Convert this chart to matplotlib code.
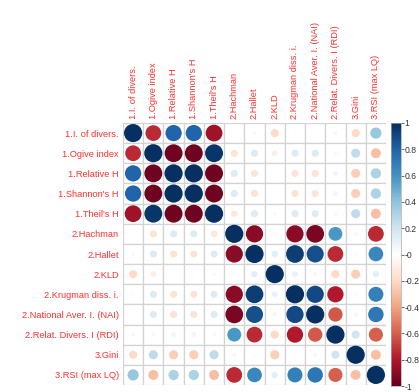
import numpy as np
import matplotlib.pyplot as plt
from matplotlib.colors import LinearSegmentedColormap
from matplotlib.patches import Circle, Rectangle

labels = ["1.I. of divers.", "1.Ogive index", "1.Relative H", "1.Shannon's H",
          "1.Theil's H", "2.Hachman", "2.Hallet", "2.KLD", "2.Krugman diss. i.",
          "2.National Aver. I. (NAI)", "2.Relat. Divers. I (RDI)", "3.Gini",
          "3.RSI (max LQ)"]

corr = [
    [1.00, -0.75, 0.80, 0.80, -0.85, 0.00, -0.04, -0.20, -0.03, 0.00, 0.05, -0.20, 0.38],
    [-0.75, 1.00, -0.97, -0.97, 0.97, -0.15, 0.15, -0.10, 0.15, 0.15, -0.05, 0.25, -0.30],
    [0.80, -0.97, 1.00, 1.00, -0.97, 0.15, -0.15, -0.02, -0.15, -0.15, 0.07, -0.25, 0.32],
    [0.80, -0.97, 1.00, 1.00, -0.97, 0.15, -0.15, -0.02, -0.15, -0.15, 0.07, -0.25, 0.32],
    [-0.85, 0.97, -0.97, -0.97, 1.00, -0.13, 0.15, -0.04, 0.15, 0.15, -0.05, 0.25, -0.30],
    [0.00, -0.15, 0.15, 0.15, -0.13, 1.00, -0.90, -0.03, -0.90, -0.95, 0.58, -0.05, -0.75],
    [-0.04, 0.15, -0.15, -0.15, 0.15, -0.90, 1.00, 0.12, 0.95, 0.88, -0.75, -0.03, 0.65],
    [-0.20, -0.10, -0.02, -0.02, -0.04, -0.03, 0.12, 1.00, 0.10, 0.05, -0.20, -0.25, 0.12],
    [-0.03, 0.15, -0.15, -0.15, 0.15, -0.90, 0.95, 0.10, 1.00, 0.90, -0.80, -0.03, 0.68],
    [0.00, 0.15, -0.15, -0.15, 0.15, -0.95, 0.88, 0.05, 0.90, 1.00, -0.62, 0.05, 0.72],
    [0.05, -0.05, 0.07, 0.07, -0.05, 0.58, -0.75, -0.20, -0.80, -0.62, 1.00, 0.20, -0.60],
    [-0.20, 0.25, -0.25, -0.25, 0.25, -0.05, -0.03, -0.25, -0.03, 0.05, 0.20, 1.00, -0.30],
    [0.38, -0.30, 0.32, 0.32, -0.30, -0.75, 0.65, 0.12, 0.68, 0.72, -0.60, -0.30, 1.00],
]

# corrplot's default RdBu ramp
cmap = LinearSegmentedColormap.from_list("corr", [
    "#67001F", "#B2182B", "#D6604D", "#F4A582", "#FDDBC7", "#FFFFFF",
    "#D1E5F0", "#92C5DE", "#4393C3", "#2166AC", "#053061"])

plt.rcParams['font.family'] = ['Liberation Sans', 'DejaVu Sans']

fig = plt.figure(figsize=(4.19, 3.92), dpi=100)
W, H = 419, 392
ax = fig.add_axes([123 / W, (H - 385) / H, 263 / W, 262 / H])

n = len(labels)
grid_col = "#d3d3d3"
for i in range(n):
    for j in range(n):
        ax.add_patch(Rectangle((j - 0.5, i - 0.5), 1, 1, facecolor="white",
                               edgecolor=grid_col, linewidth=0.9))
        r = corr[i][j]
        ax.add_patch(Circle((j, i), 0.45 * np.sqrt(abs(r)),
                            facecolor=cmap((r + 1) / 2), edgecolor="none"))

ax.set_xlim(-0.5, n - 0.5)
ax.set_ylim(n - 0.5, -0.5)
for s in ax.spines.values():
    s.set_visible(False)
ax.set_xticks(range(n))
ax.set_yticks(range(n))
ax.set_yticklabels(labels, color="#ff3030", fontsize=6.7)
ax.set_xticklabels(labels, color="#ff3030", fontsize=6.7, rotation=90)
ax.xaxis.tick_top()
ax.tick_params(length=0, pad=3)

# colour legend
cax = fig.add_axes([391 / W, (H - 386) / H, 10 / W, 263 / H])
grad = np.linspace(-1, 1, 200).reshape(-1, 1)
cax.imshow(grad, cmap=cmap, aspect="auto", origin="lower", extent=[0, 1, -1, 1])
cax.set_xticks([])
ticks = np.round(np.arange(-1, 1.01, 0.2), 1)
cax.yaxis.tick_right()
cax.set_yticks(ticks)
cax.set_yticklabels([f"{t:g}" for t in ticks], fontsize=6.2, color="#333333")
cax.tick_params(axis="y", length=2, width=0.6, pad=0.5, color="#555555")
for s in cax.spines.values():
    s.set_linewidth(0.5)
    s.set_color("#aaaaaa")

fig.savefig("out.png", dpi=100)
